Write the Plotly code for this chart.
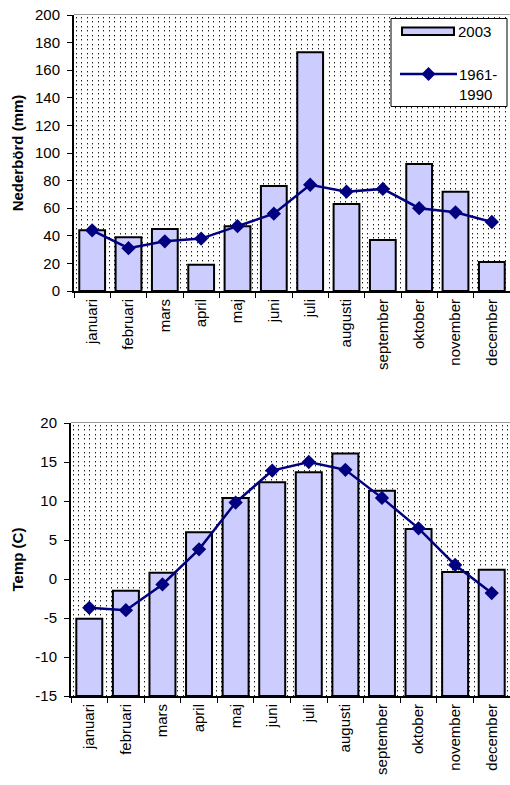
import base64
import struct
import zlib

import plotly.graph_objects as go

# ---- data -------------------------------------------------------------
months = ["januari", "februari", "mars", "april", "maj", "juni", "juli",
          "augusti", "september", "oktober", "november", "december"]
precip_2003 = [44, 39, 45, 19, 47, 76, 173, 63, 37, 92, 72, 21]
precip_normal = [44, 31, 36, 38, 47, 56, 77, 72, 74, 60, 57, 50]
temp_2003 = [-5.1, -1.5, 0.8, 6.0, 10.4, 12.4, 13.7, 16.1, 11.3, 6.4, 0.9, 1.2]
temp_normal = [-3.7, -4.0, -0.7, 3.8, 9.8, 13.9, 15.0, 14.0, 10.4, 6.5, 1.8, -1.8]
precip_ticks = list(range(0, 201, 20))
temp_ticks = list(range(-15, 21, 5))
series_names = ["2003", "1961-<br>1990"]

# ---- styling ----------------------------------------------------------
FIG_W, FIG_H = 510, 785
FONT = "Liberation Sans, Arial, sans-serif"
BAR_FILL = "#ccccff"
LINE_COL = "#000080"
TEMP_FLOOR = temp_ticks[0]

# plot areas in pixels: left, right, top, bottom
TOP_BOX = (74, 510, 15, 291)
BOT_BOX = (71, 510, 423, 696)


def domains(box):
    l, r, t, b = box
    return [l / FIG_W, r / FIG_W], [1 - b / FIG_H, 1 - t / FIG_H]


def _chunk(tag, data):
    return (struct.pack(">I", len(data)) + tag + data
            + struct.pack(">I", zlib.crc32(tag + data) & 0xFFFFFFFF))


def dotted_png(w, h):
    """White grayscale PNG sprinkled with a fine grid of dark dots."""
    px = bytearray([255]) * (w * h)
    ys, y, k = [], 2, 0
    while y < h:
        ys.append(y)
        y += 4 if k % 2 == 0 else 5
        k += 1
    xs, x, k = [], 2, 0
    while x < w:
        xs.append(x)
        x += 5 if k % 2 == 0 else 6
        k += 1
    for yy in ys:
        for xx in xs:
            px[yy * w + xx] = 30
            if yy + 1 < h:
                px[(yy + 1) * w + xx] = min(px[(yy + 1) * w + xx], 160)
    raw = b"".join(b"\x00" + bytes(px[r * w:(r + 1) * w]) for r in range(h))
    png = (b"\x89PNG\r\n\x1a\n"
           + _chunk(b"IHDR", struct.pack(">IIBBBBB", w, h, 8, 0, 0, 0, 0))
           + _chunk(b"IDAT", zlib.compress(raw, 9))
           + _chunk(b"IEND", b""))
    return "data:image/png;base64," + base64.b64encode(png).decode()


fig = go.Figure()

line_style = dict(color=LINE_COL, width=2.5)
marker_style = dict(symbol="diamond", size=11, color=LINE_COL)
bar_marker = dict(color=BAR_FILL, line=dict(color="black", width=2))

# ---- precipitation ----------------------------------------------------
fig.add_trace(go.Bar(
    x=months, y=precip_2003, name="2003", xaxis="x", yaxis="y",
    marker=bar_marker, showlegend=False,
))
fig.add_trace(go.Scatter(
    x=months, y=precip_normal, name="1961-1990", xaxis="x", yaxis="y",
    mode="lines+markers", line=line_style, marker=marker_style,
    showlegend=False,
))

# ---- temperature (bars rise from the bottom of the axis) --------------
fig.add_trace(go.Bar(
    x=months, y=[v - TEMP_FLOOR for v in temp_2003], base=TEMP_FLOOR,
    name="2003", xaxis="x2", yaxis="y2",
    marker=bar_marker, showlegend=False,
))
fig.add_trace(go.Scatter(
    x=months, y=temp_normal, name="1961-1990", xaxis="x2", yaxis="y2",
    mode="lines+markers", line=line_style, marker=marker_style,
    showlegend=False,
))

top_dx, top_dy = domains(TOP_BOX)
bot_dx, bot_dy = domains(BOT_BOX)

xaxis_common = dict(
    type="category", showgrid=False, zeroline=False,
    showline=True, linecolor="black", linewidth=2,
    ticks="outside", tickson="boundaries", ticklen=5, tickwidth=1,
    tickcolor="black", tickangle=-90,
    tickfont=dict(family=FONT, size=15, color="black"),
    range=[-0.5, len(months) - 0.5], automargin=False,
)
yaxis_common = dict(
    showgrid=False, zeroline=False,
    showline=True, linecolor="black", linewidth=2,
    ticks="outside", ticklen=5, tickwidth=1, tickcolor="black",
    tickfont=dict(family=FONT, size=15, color="black"),
    ticklabelstandoff=4, automargin=False,
)

fig.update_layout(
    width=FIG_W, height=FIG_H,
    margin=dict(l=0, r=0, t=0, b=0),
    paper_bgcolor="white", plot_bgcolor="white",
    bargap=0.29,
    showlegend=False,
    font=dict(family=FONT, color="black"),
    xaxis=dict(domain=top_dx, anchor="y", **xaxis_common),
    yaxis=dict(domain=top_dy, anchor="x", range=[precip_ticks[0], precip_ticks[-1]],
               tickvals=precip_ticks, ticktext=[str(v) for v in precip_ticks],
               title=dict(text="Nederbörd (mm)", standoff=8,
                          font=dict(family=FONT, size=15, weight="bold")),
               **yaxis_common),
    xaxis2=dict(domain=bot_dx, anchor="y2", **xaxis_common),
    yaxis2=dict(domain=bot_dy, anchor="x2", range=[temp_ticks[0], temp_ticks[-1]],
                tickvals=temp_ticks, ticktext=[str(v) for v in temp_ticks],
                title=dict(text="Temp (C)", standoff=8,
                           font=dict(family=FONT, size=15, weight="bold")),
                **yaxis_common),
)

# dotted plot-area backgrounds
images = []
for box, xr, yr in [(TOP_BOX, "x domain", "y domain"), (BOT_BOX, "x2 domain", "y2 domain")]:
    l, r, t, b = box
    images.append(dict(
        source=dotted_png(int(round(r - l)), int(round(b - t))),
        xref=xr, yref=yr, x=0, y=1, sizex=1, sizey=1,
        xanchor="left", yanchor="top", sizing="stretch", layer="below",
    ))
fig.update_layout(images=images)

shapes = []
# grey frame line along the top of each plot area
for xr, yr in [("x domain", "y domain"), ("x2 domain", "y2 domain")]:
    shapes.append(dict(type="line", xref=xr, yref=yr, x0=0, x1=1, y0=1, y1=1,
                       line=dict(color="#9a9a9a", width=2), layer="below"))


def px_x(v):
    return v / FIG_W


def px_y(v):
    return 1 - v / FIG_H


# legend box
shapes.append(dict(type="rect", xref="paper", yref="paper",
                   x0=px_x(391), x1=px_x(507), y0=px_y(106.5), y1=px_y(18.5),
                   line=dict(color="black", width=1), fillcolor="white", layer="above"))
# bar key
shapes.append(dict(type="rect", xref="paper", yref="paper",
                   x0=px_x(402), x1=px_x(454), y0=px_y(35), y1=px_y(27.5),
                   line=dict(color="black", width=2), fillcolor=BAR_FILL, layer="above"))
# line key
shapes.append(dict(type="line", xref="paper", yref="paper",
                   x0=px_x(400), x1=px_x(457), y0=px_y(74), y1=px_y(74),
                   line=dict(color=LINE_COL, width=2.5), layer="above"))
shapes.append(dict(type="path", xref="paper", yref="paper",
                   xsizemode="pixel", ysizemode="pixel",
                   xanchor=px_x(428.5), yanchor=px_y(74),
                   path="M0,-7 L7,0 L0,7 L-7,0 Z",
                   fillcolor=LINE_COL, line=dict(color=LINE_COL, width=0), layer="above"))
fig.update_layout(shapes=shapes)

fig.update_layout(annotations=[
    dict(text=series_names[0], xref="paper", yref="paper",
         x=px_x(456), y=px_y(31.5), xanchor="left", yanchor="middle",
         showarrow=False, font=dict(family=FONT, size=15, color="black")),
    dict(text=series_names[1], xref="paper", yref="paper",
         x=px_x(457), y=px_y(84.5), xanchor="left", yanchor="middle", align="left",
         showarrow=False, font=dict(family=FONT, size=15, color="black")),
])

fig.write_html("out.html")
